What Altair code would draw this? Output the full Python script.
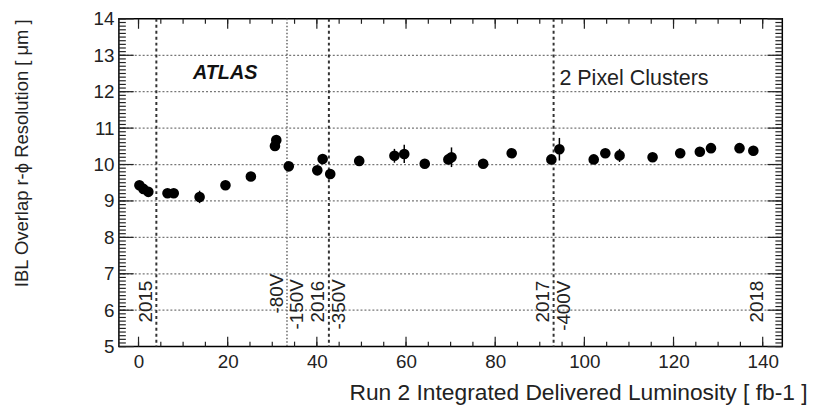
import altair as alt
import pandas as pd

# ---- data ----
lumi = [0.2, 1.1, 2.2, 6.5, 7.9, 13.7, 19.5, 25.2, 30.6, 30.9, 33.7, 40.1, 41.3, 43.0,
        49.5, 57.4, 59.6, 64.2, 69.5, 70.2, 77.3, 83.7, 92.6, 94.4, 102.1, 104.7,
        107.9, 115.3, 121.5, 125.9, 128.4, 134.8, 137.9]
resol = [9.43, 9.33, 9.25, 9.21, 9.21, 9.11, 9.43, 9.67, 10.51, 10.67, 9.95, 9.84,
         10.15, 9.74, 10.10, 10.24, 10.29, 10.02, 10.14, 10.20, 10.02, 10.31, 10.14,
         10.42, 10.14, 10.31, 10.25, 10.20, 10.31, 10.35, 10.45, 10.45, 10.38]
err = [0.05, 0.05, 0.05, 0.06, 0.06, 0.17, 0.05, 0.05, 0.06, 0.06, 0.06, 0.06, 0.06,
       0.12, 0.06, 0.19, 0.25, 0.06, 0.13, 0.27, 0.06, 0.06, 0.08, 0.31, 0.06, 0.06,
       0.18, 0.08, 0.06, 0.06, 0.06, 0.06, 0.13]

year_lines = [4.0, 42.7, 93.1]
hv_lines = [33.3]

label_text = ["2015", "-80V", "-150V", "2016", "-350V", "2017", "-400V", "2018"]
label_x = [4.0, 33.3, 33.3, 42.7, 42.7, 93.1, 93.1, 141.1]
label_top = [6.81, 7.0, 6.85, 6.81, 6.85, 6.81, 6.81, 6.81]
label_side = ["left", "left", "right", "left", "right", "left", "right", "left"]

note_text = ["ATLAS", "2 Pixel Clusters"]
note_x = [12.2, 94.4]
note_y = [12.52, 12.38]

x_major = [0, 20, 40, 60, 80, 100, 120, 140]
x_minor = list(range(0, 145, 5))
y_major = list(range(5, 15))
y_minor = [round(5 + 0.1 * i, 1) for i in range(91)]
grid_y = [6, 7, 8, 9, 10, 11, 12, 13]

FONT = "Liberation Sans"
W, H = 670, 331
XD = [-4.4, 144.4]
YD = [5, 14]
xs = alt.Scale(domain=XD, nice=False, zero=False)
ys = alt.Scale(domain=YD, nice=False, zero=False)

df = pd.DataFrame({"x": lumi, "y": resol})
eb = pd.DataFrame({"x": lumi,
                   "y": [v - e for v, e in zip(resol, err)],
                   "y2": [v + e for v, e in zip(resol, err)]})
labels = pd.DataFrame({"x": label_x, "y": label_top, "t": label_text, "side": label_side})
notes = pd.DataFrame({"x": note_x, "y": note_y, "t": note_text})

X = lambda f="x": alt.X(f + ":Q", scale=xs, axis=None)
Y = lambda f="y": alt.Y(f + ":Q", scale=ys, axis=None)
TICK = "#222"

# first layer carries the axes
carrier = alt.Chart(df).mark_point(opacity=0).encode(
    x=alt.X("x:Q", scale=xs, axis=alt.Axis(
        values=x_major, labelPadding=6,
        title="Run 2 Integrated Delivered Luminosity [ fb-1 ]",
        titleFontSize=23,
        titleAnchor="end", titleAlign="right", titleX=695, titleY=46,
        titleBaseline="middle")),
    y=alt.Y("y:Q", scale=ys, axis=alt.Axis(
        values=y_major, labelPadding=5,
        title="IBL Overlap r-\u03d5 Resolution [ \u03bcm ]",
        titleFontSize=18.6,
        titleAnchor="end", titlePadding=62)))

grid = alt.Chart(pd.DataFrame({"y": grid_y})).mark_rule(
    color="#777", strokeWidth=1.3, strokeDash=[2, 2]).encode(y=Y())

ylines = alt.Chart(pd.DataFrame({"x": year_lines})).mark_rule(
    color="#333", strokeWidth=2, strokeDash=[3, 3]).encode(x=X())
hvl = alt.Chart(pd.DataFrame({"x": hv_lines})).mark_rule(
    color="#666", strokeWidth=1.5, strokeDash=[1.5, 2]).encode(x=X())

# frame ticks (pointing inward); tick length converted from pixels to scale units
def xticks(vals, length, top):
    du = length * (YD[1] - YD[0]) / H
    base = YD[1] if top else YD[0]
    end = base - du if top else base + du
    d = pd.DataFrame({"v": vals, "a": [base] * len(vals), "b": [end] * len(vals)})
    return alt.Chart(d).mark_rule(color=TICK, strokeWidth=1.2).encode(
        x=X("v"), y=Y("a"), y2="b:Q")

def yticks(vals, length, right):
    du = length * (XD[1] - XD[0]) / W
    base = XD[1] if right else XD[0]
    end = base - du if right else base + du
    d = pd.DataFrame({"v": vals, "a": [base] * len(vals), "b": [end] * len(vals)})
    return alt.Chart(d).mark_rule(color=TICK, strokeWidth=1.2).encode(
        y=Y("v"), x=X("a"), x2="b:Q")

ticks = [xticks(x_minor, 5, False), xticks(x_major, 10, False),
         xticks(x_minor, 5, True), xticks(x_major, 10, True),
         yticks(y_minor, 7, False), yticks(y_major, 15, False),
         yticks(y_minor, 7, True), yticks(y_major, 15, True)]

errbars = alt.Chart(eb).mark_rule(color="black", strokeWidth=1.5).encode(
    x=X(), y=Y(), y2="y2:Q")

points = alt.Chart(df).mark_circle(size=115, color="black", opacity=1).encode(
    x=X(), y=Y())

lab_left = alt.Chart(labels).transform_filter(alt.datum.side == "left").mark_text(
    angle=270, align="right", baseline="middle", font=FONT, fontSize=19,
    color="#222", dy=-10.5).encode(x=X(), y=Y(), text="t:N")
lab_right = alt.Chart(labels).transform_filter(alt.datum.side == "right").mark_text(
    angle=270, align="right", baseline="middle", font=FONT, fontSize=19,
    color="#222", dy=10.5).encode(x=X(), y=Y(), text="t:N")

atlas = alt.Chart(notes.iloc[[0]]).mark_text(
    align="left", baseline="middle", font=FONT, fontSize=20, fontStyle="italic",
    fontWeight="bold", color="#111").encode(x=X(), y=Y(), text="t:N")
clus = alt.Chart(notes.iloc[[1]]).mark_text(
    align="left", baseline="middle", font=FONT, fontSize=21.7, color="#222").encode(
    x=X(), y=Y(), text="t:N")

chart = alt.layer(
    carrier, grid, ylines, hvl, *ticks, errbars, points, lab_left, lab_right, atlas, clus
).resolve_scale(
    x="independent", y="independent"
).properties(
    width=W, height=H, background="white",
    autosize=alt.AutoSizeParams(type="none"),
    padding={"left": 112, "top": 9, "right": 32, "bottom": 57},
).configure_axis(
    ticks=False, domain=False, grid=False, labelOverlap=False,
    labelFont=FONT, labelFontSize=19, labelColor="#222",
    titleFont=FONT, titleFontSize=19, titleFontWeight="normal", titleColor="#222",
).configure_axisX(tickCount=8).configure_axisY(tickCount=10
).configure_view(stroke="black", strokeWidth=1.5)

chart.save("out.html", embed_options={"renderer": "svg", "actions": False})
